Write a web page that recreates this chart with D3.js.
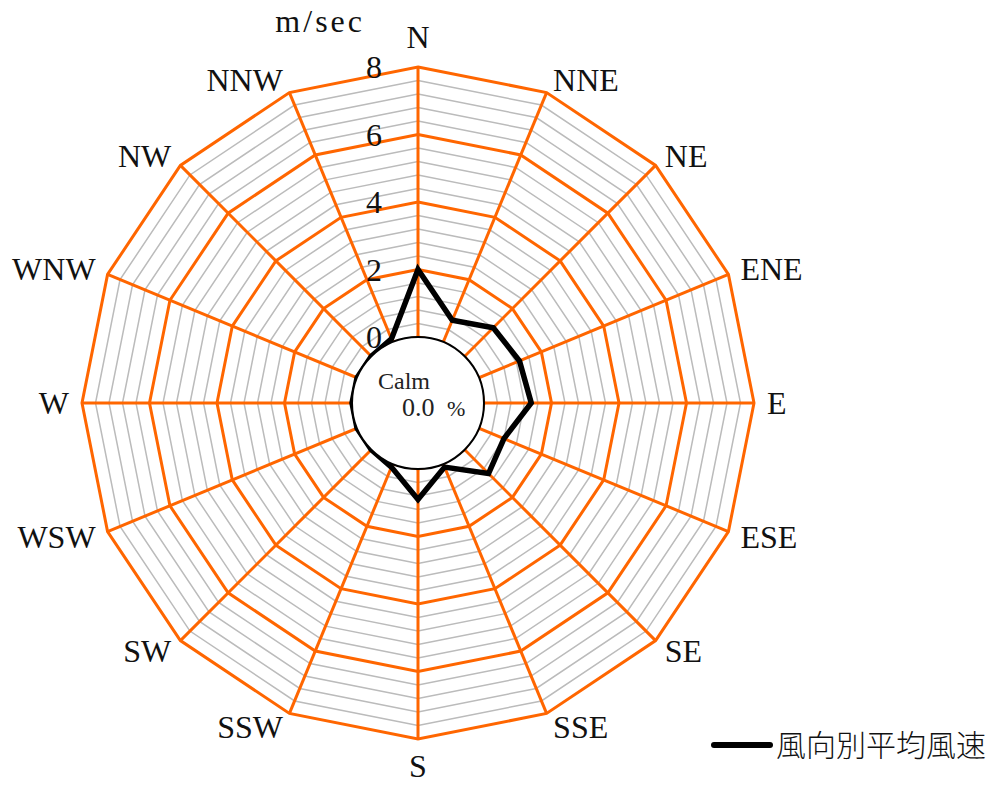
<!DOCTYPE html>
<html>
<head>
<meta charset="utf-8">
<script src="https://cdn.jsdelivr.net/npm/d3@7"></script>
<style>
  body { margin: 0; background: #fff; }
  svg { display: block; }
</style>
</head>
<body>
<div id="chart"></div>
<script>
// 16 wind directions, clockwise from north
const directions = ["N", "NNE", "NE", "ENE", "E", "ESE", "SE", "SSE",
                    "S", "SSW", "SW", "WSW", "W", "WNW", "NW", "NNW"];
// mean wind speed per direction (m/sec)
const meanSpeed = [2.0, 0.7, 1.2, 1.3, 1.4, 0.8, 1.0, 0.1,
                   0.9, 0.1, 0.0, 0.0, 0.0, 0.0, 0.0, 0.1];
const majorTicks = [0, 2, 4, 6, 8];
const minorTicks = d3.range(0, 8.01, 0.4);
const calmPercent = "0.0";
const unitLabel = "m/sec";
const legendLabel = "風向別平均風速";

const width = 1003;
const height = 785;
const cx = 418;
const cy = 403;
const innerR = 66;
const outerR = 336;
const orange = "#ff6600";
const latinFont = "'Liberation Serif', 'DejaVu Serif', serif";

const r = d3.scaleLinear().domain([0, 8]).range([innerR, outerR]);
const angle = i => i * 2 * Math.PI / directions.length;

const svg = d3.select("#chart").append("svg")
    .attr("width", width)
    .attr("height", height);

const g = svg.append("g").attr("transform", `translate(${cx},${cy})`);

const ring = v => d3.lineRadial()
    .angle((d, i) => angle(i))
    .radius(() => r(v))
    .curve(d3.curveLinearClosed)(directions);

// minor rings
g.append("g").selectAll("path")
    .data(minorTicks.filter(v => !majorTicks.some(m => Math.abs(m - v) < 1e-6)))
    .join("path")
    .attr("d", d => ring(d))
    .attr("fill", "none")
    .attr("stroke", "#bbbbbb")
    .attr("stroke-width", 1.5);

// spokes
g.append("g").selectAll("line")
    .data(directions)
    .join("line")
    .attr("x1", 0).attr("y1", 0)
    .attr("x2", (d, i) => r(8) * Math.sin(angle(i)))
    .attr("y2", (d, i) => -r(8) * Math.cos(angle(i)))
    .attr("stroke", orange)
    .attr("stroke-width", 3);

// major rings
g.append("g").selectAll("path")
    .data(majorTicks)
    .join("path")
    .attr("d", d => ring(d))
    .attr("fill", "none")
    .attr("stroke", orange)
    .attr("stroke-width", 3)
    .attr("stroke-linejoin", "miter");

// mean speed polygon
const speedLine = d3.lineRadial()
    .angle((d, i) => angle(i))
    .radius(d => r(d))
    .curve(d3.curveLinearClosed);

g.append("path")
    .attr("d", speedLine(meanSpeed))
    .attr("fill", "none")
    .attr("stroke", "#000")
    .attr("stroke-width", 5.5)
    .attr("stroke-linejoin", "miter");

// calm circle
g.append("circle")
    .attr("r", innerR)
    .attr("fill", "#fff")
    .attr("stroke", "#000")
    .attr("stroke-width", 2);

g.append("text")
    .attr("x", -40).attr("y", -14)
    .attr("font-family", latinFont)
    .attr("font-size", 24)
    .attr("fill", "#222")
    .text("Calm");

g.append("text")
    .attr("x", -16).attr("y", 13)
    .attr("font-family", latinFont)
    .attr("font-size", 26)
    .attr("fill", "#222")
    .text(calmPercent);

g.append("text")
    .attr("x", 29).attr("y", 13)
    .attr("font-family", latinFont)
    .attr("font-size", 22)
    .attr("fill", "#222")
    .text("%");

// tick labels along north spoke
g.append("g").selectAll("text")
    .data(majorTicks)
    .join("text")
    .attr("x", -36)
    .attr("y", d => -r(d))
    .attr("dy", "0.35em")
    .attr("text-anchor", "end")
    .attr("font-family", latinFont)
    .attr("font-size", 32)
    .attr("fill", "#111")
    .text(d => d);

g.append("text")
    .attr("x", -53).attr("y", -371)
    .attr("text-anchor", "end")
    .attr("font-family", latinFont)
    .attr("font-size", 32)
    .attr("letter-spacing", 3)
    .attr("fill", "#111")
    .text(unitLabel);

// direction labels
g.append("g").selectAll("text")
    .data(directions)
    .join("text")
    .each(function(d, i) {
        const a = angle(i);
        const s = Math.sin(a), c = Math.cos(a);
        const vx = r(8) * s, vy = -r(8) * c;
        const el = d3.select(this);
        if (Math.abs(s) < 0.01) {
            el.attr("x", vx).attr("y", vy - (c > 0 ? 30 : -27)).attr("text-anchor", "middle");
        } else {
            el.attr("x", vx + 13 * Math.sign(s) * Math.max(Math.abs(s), 0.5))
              .attr("y", vy - 14 * c)
              .attr("text-anchor", s > 0 ? "start" : "end");
        }
    })
    .attr("dy", "0.35em")
    .attr("font-family", latinFont)
    .attr("font-size", 32)
    .attr("fill", "#111")
    .text(d => d);

// legend
const legend = svg.append("g").attr("transform", "translate(714,745)");
legend.append("line")
    .attr("x1", 0).attr("x2", 56)
    .attr("y1", 0).attr("y2", 0)
    .attr("stroke", "#000")
    .attr("stroke-width", 6)
    .attr("stroke-linecap", "round");
legend.append("text")
    .attr("x", 62).attr("y", 0)
    .attr("dy", "0.36em")
    .attr("font-family", "'Noto Sans CJK JP', sans-serif")
    .attr("font-weight", 300)
    .attr("font-size", 30)
    .attr("fill", "#111")
    .text(legendLabel);
</script>
</body>
</html>
